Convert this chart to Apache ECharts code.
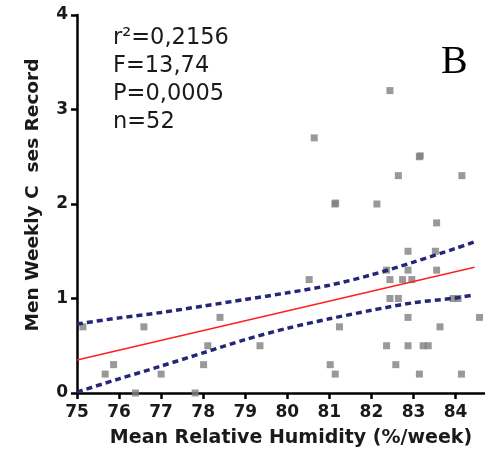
<!DOCTYPE html>
<html><head><meta charset="utf-8">
<script src="https://cdn.jsdelivr.net/npm/echarts@6/dist/echarts.min.js"></script>
<style>html,body{margin:0;padding:0;background:#fff}#c{width:485px;height:455px}</style>
</head><body><div id="c"></div>
<script>
// Scatter data: mean relative humidity (%/week) vs men weekly cases record
const humidity = [75.14,76.59,75.87,75.67,76.39,77.00,78.40,78.11,78.01,77.81,79.35,80.52,81.24,81.02,81.14,
  82.36,82.44,82.44,82.64,82.36,82.58,82.87,83.52,82.87,83.55,82.74,82.96,83.94,84.06,82.87,84.57,83.63,
  82.87,83.23,83.35,83.14,84.14,82.44,80.64,83.14,83.16,82.64,84.15,81.13,81.15,82.13,83.55];
const cases = [0.7,0.7,0.3,0.2,0,0.2,0.8,0.5,0.3,0,0.5,1.2,0.7,0.3,0.2,
  1.3,1.2,1.0,1.0,0.5,0.3,1.5,1.5,1.3,1.3,1.2,1.2,1.0,1.0,0.8,0.8,0.7,
  0.5,0.5,0.5,0.2,0.2,3.2,2.7,2.5,2.51,2.3,2.3,2.0,2.01,2.0,1.8];
// Regression line
const fitX = [75, 84.45];
const fitY = [0.35, 1.33];
// 95% confidence bands
const bandX = [75,76,77,78,79,80,81,82,83,84,84.45];
const upperY = [0.73,0.795,0.852,0.92,0.99,1.06,1.14,1.25,1.385,1.53,1.60];
const lowerY = [0.01,0.15,0.285,0.425,0.565,0.685,0.785,0.875,0.955,1.005,1.04];
// Axes
const xTicks = [75,76,77,78,79,80,81,82,83,84];
const yTicks = [0,1,2,3,4];
const xTitle = 'Mean Relative Humidity (%/week)';
const yTitle = 'Men Weekly C  ses Record';
const statsLines = ['r\u00b2=0,2156','F=13,74','P=0,0005','n=52'];
const panelLabel = 'B';

const chart = echarts.init(document.getElementById('c'), null, {renderer:'canvas'});
const tickFont = {fontFamily:'DejaVu Sans', fontWeight:'bold', fontSize:17, color:'#1a1a1a'};
const option = {
  animation:false,
  backgroundColor:'#fff',
  grid:{left:77, right:0, top:15, bottom:62, containLabel:false},
  xAxis:{type:'value', min:75, max:84.7, interval:1,
    name:xTitle, nameLocation:'middle', nameGap:36,
    nameTextStyle:{fontFamily:'DejaVu Sans', fontWeight:'bold', fontSize:19, color:'#1a1a1a', padding:[0,0,0,20]},
    axisLine:{onZero:false, lineStyle:{color:'#000', width:2.5}},
    axisTick:{length:6, customValues:xTicks, lineStyle:{color:'#000', width:2.5}},
    axisLabel:Object.assign({customValues:xTicks, margin:11}, tickFont),
    splitLine:{show:false}},
  yAxis:{type:'value', min:0, max:4, interval:1,
    name:yTitle, nameLocation:'middle', nameGap:34, nameRotate:90,
    nameTextStyle:{fontFamily:'DejaVu Sans', fontWeight:'bold', fontSize:18.5, color:'#1a1a1a', padding:[0,0,0,18]},
    axisLine:{onZero:false, lineStyle:{color:'#000', width:2.5}},
    axisTick:{length:6, customValues:yTicks, lineStyle:{color:'#000', width:2.5}},
    axisLabel:Object.assign({customValues:yTicks, margin:9}, tickFont),
    splitLine:{show:false}},
  graphic:[
    {type:'text', left:113, top:24, style:{text:statsLines.join('\n'), font:'22.5px "DejaVu Sans"', lineHeight:28, fill:'#1a1a1a'}},
    {type:'text', left:441, top:42, style:{text:panelLabel, font:'40px "Liberation Serif"', fill:'#000'}}
  ],
  series:[
    {type:'scatter', clip:false, symbol:'rect', symbolSize:7, itemStyle:{color:'#808080'},
      data:humidity.map((x,i)=>[x,cases[i]])},
    {type:'line', showSymbol:false, symbol:'none', lineStyle:{color:'#ff2020', width:1.5},
      data:fitX.map((x,i)=>[x,fitY[i]])},
    {type:'line', showSymbol:false, symbol:'none', smooth:0.3, lineStyle:{color:'#262678', width:3.5, type:[6,4]},
      data:bandX.map((x,i)=>[x,upperY[i]])},
    {type:'line', showSymbol:false, symbol:'none', smooth:0.3, lineStyle:{color:'#262678', width:3.5, type:[6,4]},
      data:bandX.map((x,i)=>[x,lowerY[i]])}
  ]
};
chart.setOption(option);
</script></body></html>
